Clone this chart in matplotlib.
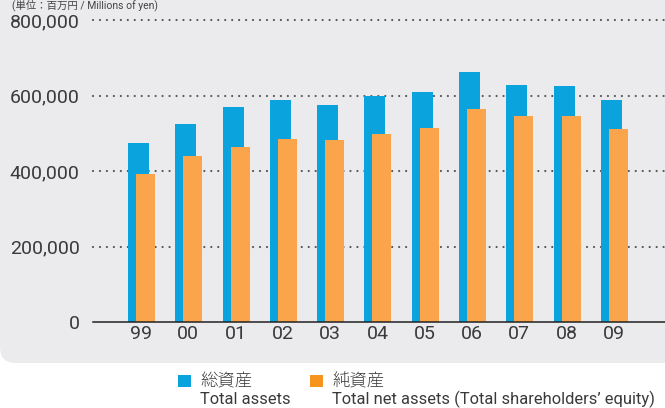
import matplotlib
matplotlib.use("Agg")
import matplotlib.pyplot as plt
import numpy as np
from matplotlib.patches import FancyBboxPatch, Rectangle
from matplotlib.transforms import IdentityTransform

years = ["99", "00", "01", "02", "03", "04", "05", "06", "07", "08", "09"]
total_assets = [474000, 524000, 569000, 588000, 575000, 599000, 609000, 662000, 628000, 625000, 588000]
net_assets = [392000, 440000, 464000, 485000, 482000, 498000, 514000, 564000, 546000, 546000, 511000]
yticks = [0, 200000, 400000, 600000, 800000]
ytick_labels = ["0", "200,000", "400,000", "600,000", "800,000"]
legend_jp = ["総資産", "純資産"]
legend_en = ["Total assets", "Total net assets (Total shareholders\u2019 equity)"]
unit_label = "(単位：百万円 / Millions of yen)"

BLUE = "#0AA3DD"
ORANGE = "#FAA54C"
ORANGE_LEG = "#F7941D"
PANEL = "#EBEBEE"
TXT = "#3A3A3A"

plt.rcParams["font.family"] = ["Roboto", "Noto Sans CJK JP", "DejaVu Sans"]
plt.rcParams["lines.scale_dashes"] = False

W, H = 665, 408
fig = plt.figure(figsize=(W / 100, H / 100), dpi=100, facecolor="white")

# gray panel (pixel coordinates, origin bottom-left)
panel = FancyBboxPatch((0, H - 363), 720, 420,
                       boxstyle="round,pad=0,rounding_size=16",
                       facecolor=PANEL, edgecolor="none",
                       transform=IdentityTransform(), zorder=-10)
fig.patches.append(panel)

ax_left, ax_right, ax_bottom, ax_top = 93, 665, 322, 20
ax = fig.add_axes([ax_left / W, (H - ax_bottom) / H,
                   (ax_right - ax_left) / W, (ax_bottom - ax_top) / H])
ax.set_zorder(5)
ax.set_facecolor("none")
ax.patch.set_visible(False)

x = np.arange(len(years))
ax.bar(x - 0.053, total_assets, width=0.444, color=BLUE, zorder=3)
ax.bar(x + 0.095, net_assets, width=0.40, color=ORANGE, zorder=4)

for yv in yticks[1:]:
    ax.axhline(yv, color="#555555", linewidth=1.6, linestyle=(0, (0.01, 5.0)),
               dash_capstyle="round", zorder=2, clip_on=False)

ax.set_xlim(-1.015, 11.08)
ax.set_ylim(0, 800000)
ax.set_yticks(yticks)
ax.set_yticklabels(ytick_labels)
ax.set_xticks(x)
ax.set_xticklabels(years)
ax.tick_params(axis="y", length=0, pad=9.5, labelsize=14, labelcolor=TXT)
ax.tick_params(axis="x", length=0, pad=2.5, labelsize=14, labelcolor=TXT)

for s in ["top", "right", "left"]:
    ax.spines[s].set_visible(False)
ax.spines["bottom"].set_color("#222222")
ax.spines["bottom"].set_linewidth(1.1)
ax.spines["bottom"].set_zorder(5)

# unit label at top
fig.text(12 / W, 1 - 5 / H, unit_label, fontsize=7.5, color="#444444",
         ha="left", va="center")

# legend
leg_items = [(178, BLUE, legend_jp[0], legend_en[0]),
             (310, ORANGE_LEG, legend_jp[1], legend_en[1])]
for px, col, jp, en in leg_items:
    fig.patches.append(Rectangle((px, H - 387), 13, 12, facecolor=col,
                                 edgecolor="none", transform=IdentityTransform()))
    fig.text((px + 22) / W, (H - 381) / H, jp, fontsize=12.5, color=TXT,
             ha="left", va="center", family=["Noto Sans CJK JP"], fontweight="light")
    fig.text((px + 22) / W, (H - 404) / H, en, fontsize=11.9, color=TXT,
             ha="left", va="baseline")

fig.savefig("out.png", dpi=100, facecolor="white")
